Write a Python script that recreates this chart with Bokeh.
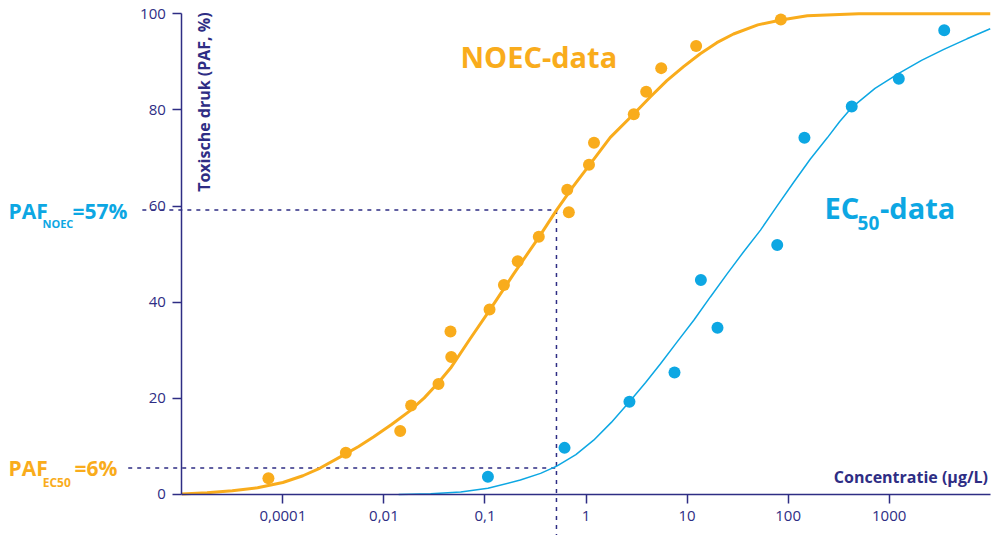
import math
from bokeh.plotting import figure
from bokeh.models import FixedTicker, Label, Range1d
from bokeh.embed import file_html
from bokeh.resources import INLINE

# ---------------- data ----------------
# NOEC data points (concentration in ug/L, PAF %)
noec_conc = [0.00072, 0.0042, 0.0145, 0.0186, 0.0347, 0.0464, 0.0456, 0.111, 0.154, 0.211,
             0.341, 0.652, 0.676, 1.07, 1.20, 2.97, 3.94, 5.55, 12.3, 84.7]
noec_paf = [3.4, 8.7, 13.2, 18.5, 23.0, 28.6, 33.9, 38.5, 43.6, 48.5,
            53.6, 63.4, 58.7, 68.6, 73.2, 79.1, 83.8, 88.7, 93.3, 98.8]

# EC50 data points
ec50_conc = [0.107, 0.613, 2.69, 7.51, 13.7, 20.0, 78.0, 145, 426, 1245, 3505]
ec50_paf = [3.7, 9.7, 19.3, 25.4, 44.6, 34.7, 51.9, 74.2, 80.7, 86.5, 96.6]

# fitted curves
noec_curve_conc = [0.0001, 0.000178, 0.000316, 0.000562, 0.001, 0.00158, 0.00234, 0.00398,
                   0.00562, 0.00794, 0.0120, 0.0178, 0.0251, 0.0347, 0.0457, 0.0708, 0.111,
                   0.191, 0.341, 0.513, 0.741, 1.07, 1.74, 2.95, 4.32, 6.31, 9.23, 13.5,
                   19.7, 28.8, 50.1, 85.1, 155, 501, 10000]
noec_curve_paf = [0.08, 0.35, 0.8, 1.4, 2.5, 3.9, 5.5, 8.2,
                  10.0, 12.0, 14.6, 17.3, 20.1, 23.3, 26.3, 32.3, 38.3,
                  45.8, 53.5, 59.2, 64.0, 68.4, 74.3, 79.1, 82.7, 86.1, 89.0, 91.7,
                  94.0, 95.8, 97.7, 98.7, 99.6, 100, 100]

ec50_curve_conc = [0.014, 0.029, 0.0575, 0.107, 0.224, 0.355, 0.513, 0.794, 1.19, 1.78,
                   2.69, 3.89, 5.46, 7.94, 11.7, 17.0, 24.9, 36.3, 53.3, 77.6,
                   114, 166, 244, 324, 431, 724, 1245, 2089, 3475, 5888, 10000]
ec50_curve_paf = [0.0, 0.15, 0.5, 1.3, 3.0, 4.4, 5.9, 8.3, 11.3, 15.0,
                  19.3, 23.3, 27.2, 31.7, 36.3, 41.1, 45.9, 50.5, 55.0, 60.0,
                  65.0, 69.8, 74.2, 77.6, 80.6, 84.5, 87.6, 90.3, 92.6, 94.8, 96.9]

# read-off lines
noec_level_conc = 0.51      # concentration of the vertical dashed line
paf_noec_level = 59.2       # height of the upper dashed line
paf_ec50_level = 5.5        # height of the lower dashed line

x_ticks = [0.001, 0.01, 0.1, 1, 10, 100, 1000]
x_tick_labels = ["0,0001", "0,01", "0,1", "1", "10", "100", "1000"]
y_ticks = [0, 20, 40, 60, 80, 100]

# ---------------- styling ----------------
NAVY = "#2E2D84"
ORANGE = "#F9AC1C"
BLUE = "#0DA7E3"
FONT = "Open Sans"

p = figure(width=996, height=535, x_axis_type="log",
           x_range=Range1d(10 ** -5.794, 10 ** 4.062),
           y_range=Range1d(-8.53, 102.77),
           output_backend="svg", toolbar_location=None, min_border=0)
p.outline_line_color = None
p.grid.visible = False

xa = p.xaxis[0]
xa.fixed_location = 0
xa.bounds = (1e-4, 1e4)
xa.ticker = FixedTicker(ticks=x_ticks)
xa.major_label_overrides = {t: l for t, l in zip(x_ticks, x_tick_labels)}
ya = p.yaxis[0]
ya.fixed_location = 1e-4
ya.bounds = (0, 100)
ya.ticker = FixedTicker(ticks=y_ticks)

for ax in (xa, ya):
    ax.axis_line_color = NAVY
    ax.axis_line_width = 1.5
    ax.major_tick_line_color = NAVY
    ax.major_tick_line_width = 1.5
    ax.major_tick_in = 0
    ax.major_tick_out = 9
    ax.minor_tick_line_color = None
    ax.major_label_text_font = FONT
    ax.major_label_text_font_size = "15px"
    ax.major_label_text_color = NAVY
xa.major_label_standoff = 8
ya.major_label_standoff = 7

# dashed read-off lines
p.segment(x0=[4.07e-5, 2.95e-5, noec_level_conc],
          y0=[paf_noec_level, paf_ec50_level, paf_noec_level],
          x1=[noec_level_conc, noec_level_conc, noec_level_conc],
          y1=[paf_noec_level, paf_ec50_level, p.y_range.start],
          line_color=NAVY, line_width=1.5, line_dash="4 5")

# curves and points
p.line(ec50_curve_conc, ec50_curve_paf, line_color=BLUE, line_width=1.5)
p.line(noec_curve_conc, noec_curve_paf, line_color=ORANGE, line_width=3)
p.scatter(noec_conc, noec_paf, size=12, fill_color=ORANGE, line_color=None)
p.scatter(ec50_conc, ec50_paf, size=12, fill_color=BLUE, line_color=None)


def lab(x, y, text, size, color, bold=True, align="left", angle=0.0):
    p.add_layout(Label(x=x, y=y, text=text, text_font=FONT,
                       text_font_style="bold" if bold else "normal",
                       text_font_size=size, text_color=color,
                       text_align=align, text_baseline="middle", angle=angle))


# axis titles
lab(1.64e-4, 100.3, "Toxische druk (PAF, %)", "16px", NAVY, align="right", angle=math.pi / 2)
lab(9510, 3.74, "Concentratie (µg/L)", "16px", NAVY, align="right")

# series labels
lab(0.0573, 91.1, "NOEC-data", "29px", ORANGE)
lab(229, 59.7, "EC", "29px", BLUE)
lab(486, 56.5, "50", "19px", BLUE)
lab(812, 59.7, "-data", "29px", BLUE)

# PAF annotations left of the axis
lab(1.93e-6, 59.0, "PAF", "21px", BLUE)
lab(4.18e-6, 56.4, "NOEC", "11px", BLUE)
lab(8.28e-6, 59.0, "=57%", "21px", BLUE)
lab(1.93e-6, 5.45, "PAF", "21px", ORANGE)
lab(4.2e-6, 2.43, "EC50", "12px", ORANGE)
lab(8.67e-6, 5.45, "=6%", "21px", ORANGE)

open("out.html", "w").write(file_html(p, INLINE))
